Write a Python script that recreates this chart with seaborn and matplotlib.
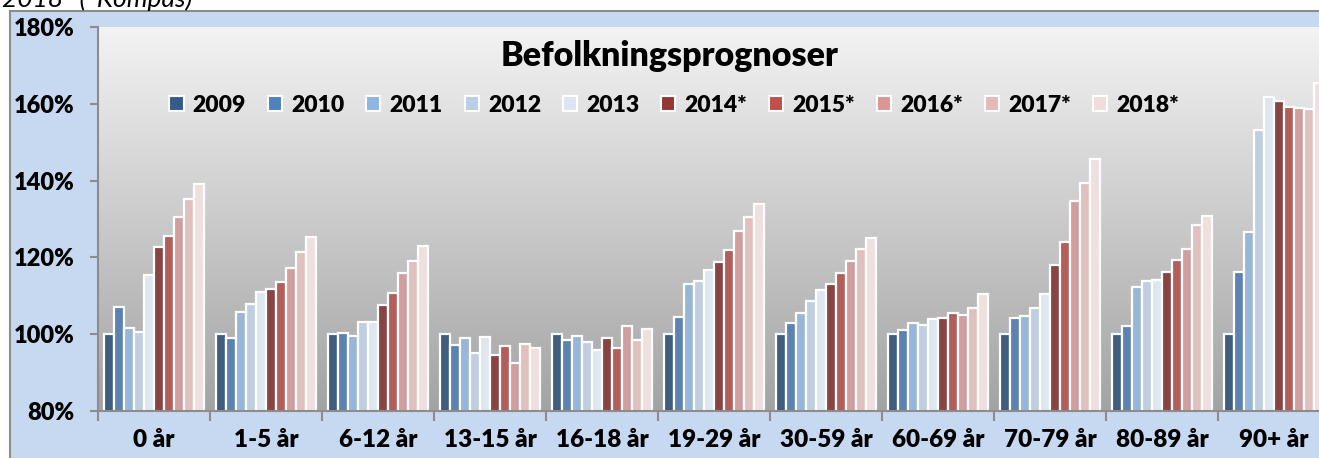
import numpy as np
import pandas as pd
import matplotlib
matplotlib.use("Agg")
import matplotlib.pyplot as plt
import matplotlib.ticker as mticker
from matplotlib.patches import Rectangle
import seaborn as sns

# ─── Data ─────────────────────────────────────────────────────────────────────

age_groups = ["0 år", "1-5 år", "6-12 år", "13-15 år", "16-18 år", "19-29 år",
              "30-59 år", "60-69 år", "70-79 år", "80-89 år", "90+ år"]
years = ["2009", "2010", "2011", "2012", "2013",
         "2014*", "2015*", "2016*", "2017*", "2018*"]

# index (%) per age group, one list per year
v2009 = [100.0, 100.0, 100.0, 100.0, 100.0, 100.0, 100.0, 100.0, 100.0, 100.0, 100.0]
v2010 = [107.0, 99.1, 100.2, 97.2, 98.4, 104.6, 102.8, 101.1, 104.2, 102.1, 116.1]
v2011 = [101.6, 105.9, 99.5, 98.9, 99.5, 113.2, 105.6, 102.8, 104.8, 112.2, 126.6]
v2012 = [100.7, 107.9, 103.3, 95.0, 97.9, 113.8, 108.6, 102.3, 106.7, 113.8, 153.1]
v2013 = [115.3, 111.0, 103.1, 99.3, 96.0, 116.8, 111.5, 103.9, 110.5, 114.2, 161.9]
v2014 = [122.6, 111.7, 107.6, 94.7, 98.9, 118.8, 113.2, 104.2, 118.0, 116.3, 160.6]
v2015 = [125.5, 113.5, 110.8, 96.8, 96.3, 121.9, 115.9, 105.6, 124.1, 119.2, 159.1]
v2016 = [130.5, 117.2, 115.9, 92.4, 102.1, 126.9, 119.1, 105.0, 134.7, 122.1, 159.0]
v2017 = [135.3, 121.4, 119.0, 97.5, 98.4, 130.6, 122.3, 106.8, 139.4, 128.5, 158.7]
v2018 = [139.0, 125.3, 122.9, 96.5, 101.4, 134.0, 125.1, 110.4, 145.6, 130.8, 165.3]

series = [v2009, v2010, v2011, v2012, v2013, v2014, v2015, v2016, v2017, v2018]

colors = ["#355C89", "#4F81BD", "#8EB4E3", "#B9CDE5", "#DCE6F2",
          "#953735", "#C0504D", "#D99694", "#E6B9B8", "#F2DCDB"]

df = pd.DataFrame([
    {"group": g, "year": y, "value": v}
    for y, vals in zip(years, series)
    for g, v in zip(age_groups, vals)
])

# ─── Plot ─────────────────────────────────────────────────────────────────────

W, H = 1319, 458
FONT = ["Lato", "DejaVu Sans"]
WEIGHT = "heavy"
plt.rcParams["font.family"] = FONT

fig = plt.figure(figsize=(W / 100, H / 100), dpi=100, facecolor="white")

# chart frame (light blue with grey border)
fig.patches.append(Rectangle((10 / W, -0.1), 1.2, 1.1 - 11 / H,
                             transform=fig.transFigure, facecolor="#C6D9F1",
                             edgecolor="#8C8C8C", lw=1.5, zorder=-10))

left, right, top, bottom = 98, 1330, 27, 411
ax = fig.add_axes([left / W, 1 - bottom / H, (right - left) / W, (bottom - top) / H])
ax.set_zorder(1)

# grey gradient plot area
grad = np.linspace(0, 1, 256).reshape(-1, 1)
ax.imshow(grad, cmap=matplotlib.colors.LinearSegmentedColormap.from_list(
    "bg", ["#F3F3F3", "#A3A3A3"]), extent=[0, 1, 0, 1], transform=ax.transAxes,
    aspect="auto", zorder=0)

sns.barplot(data=df, x="group", y="value", hue="year", palette=colors,
            width=0.884, edgecolor="white", linewidth=1.6, ax=ax,
            legend=False, zorder=2)

ax.set_xlim(-0.5, len(age_groups) - 0.5)
ax.set_ylim(80, 180)
ax.set_yticks([80, 100, 120, 140, 160, 180])
ax.yaxis.set_major_formatter(mticker.FuncFormatter(lambda v, _: f"{v:.0f}%"))
ax.set_xlabel("")
ax.set_ylabel("")

for s in ["top", "right"]:
    ax.spines[s].set_visible(False)
for s in ["left", "bottom"]:
    ax.spines[s].set_color("#8C8C8C")
    ax.spines[s].set_linewidth(1.5)

ax.tick_params(axis="y", length=6, width=1.5, color="#8C8C8C", pad=11,
               labelsize=17)
for t in ax.get_yticklabels():
    t.set_fontweight(WEIGHT)
ax.set_xticks(np.arange(len(age_groups) + 1) - 0.5, minor=True)
ax.tick_params(axis="x", which="minor", length=7, width=1.5, color="#8C8C8C")
ax.tick_params(axis="x", which="major", length=0, pad=13, labelsize=17.5)
for t in ax.get_xticklabels():
    t.set_fontweight(WEIGHT)

# title and legend
fig.text(670 / W, 1 - 56 / H, "Befolkningsprognoser", ha="center", va="center",
         fontsize=24.5, fontweight=WEIGHT, zorder=5)

handles = [Rectangle((0, 0), 1, 1, facecolor=c, edgecolor="white", lw=1.5)
           for c in colors]
leg = fig.legend(handles, years, loc="center", bbox_to_anchor=(674 / W, 1 - 105 / H),
                 ncol=len(years), frameon=False, handlelength=0.62, handleheight=0.62,
                 handletextpad=0.4, columnspacing=0.95,
                 prop={"weight": WEIGHT, "size": 16.5})
leg.set_zorder(5)

# cut-off note at very top
fig.text(2 / W, 1 - 7 / H, "2018* (*Kompas)", ha="left", va="baseline",
         fontsize=19, fontstyle="italic")

fig.savefig("out.png", dpi=100, facecolor="white")
